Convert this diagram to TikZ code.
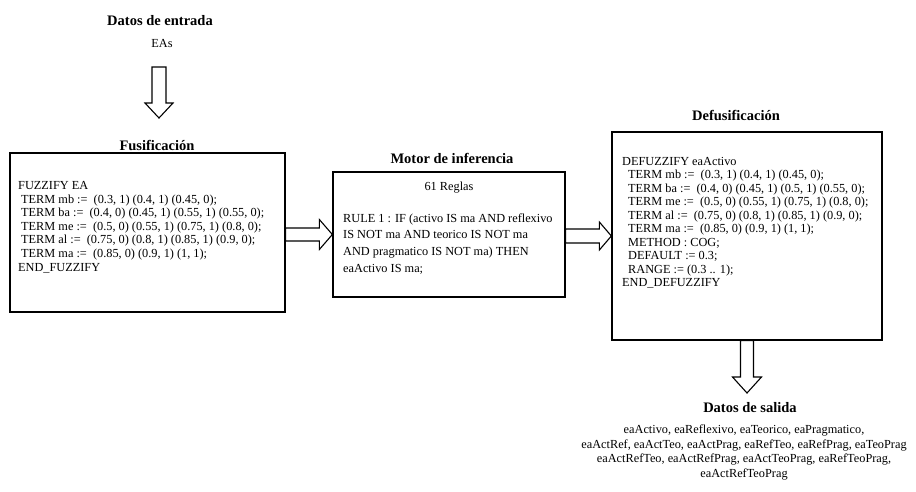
\documentclass[tikz,border=0pt]{standalone}
\usepackage{fontspec}
\setmainfont{Liberation Serif}
\usetikzlibrary{calc}
\begin{document}
\begin{tikzpicture}[x=1pt,y=-1pt,
  box/.style={draw, line width=1.3pt, inner sep=0pt},
  barrow/.style={draw, line width=1.1pt, line join=miter},
  title/.style={font=\fontsize{14.5}{17}\selectfont\bfseries, inner sep=0pt, anchor=base},
  body/.style={font=\fontsize{12.3}{13.6}\selectfont, inner sep=0pt, align=left, anchor=north west},
  lbl/.style={font=\fontsize{12.3}{14}\selectfont, inner sep=0pt, anchor=base}]
\useasboundingbox (0,0) rectangle (916,491);

% titles
\node[title] (tin) at (160,25.5) {Datos de entrada};
\node[lbl] (eas) at (162,47.5) {EAs};
\node[title] (tfus) at (157,150.5) {Fusificación};
\node[title] (tmot) at (452,163) {Motor de inferencia};
\node[title] (tdef) at (736,120) {Defusificación};
\node[title] (tout) at (750,412.5) {Datos de salida};

% boxes
\node[box, minimum width=275, minimum height=159] (fus) at (147.5,232.5) {};
\node[box, minimum width=232, minimum height=125] (motor) at (449,234.5) {};
\node[box, minimum width=270, minimum height=208] (def) at (747,236) {};

% box contents
\node[body] (fustxt) at (18,181.2) {FUZZIFY EA\\
\hspace*{3pt}TERM mb := \ (0.3, 1) (0.4, 1) (0.45, 0);\\
\hspace*{3pt}TERM ba := \ (0.4, 0) (0.45, 1) (0.55, 1) (0.55, 0);\\
\hspace*{3pt}TERM me := \ (0.5, 0) (0.55, 1) (0.75, 1) (0.8, 0);\\
\hspace*{3pt}TERM al := \ (0.75, 0) (0.8, 1) (0.85, 1) (0.9, 0);\\
\hspace*{3pt}TERM ma := \ (0.85, 0) (0.9, 1) (1, 1);\\
END\_FUZZIFY};

\node[lbl] (reglas) at (449,190) {61 Reglas};
\node[body, font=\fontsize{12.3}{16.7}\selectfont] (rule) at (343,213.3) {RULE 1 : IF (activo IS ma AND reflexivo\\
IS NOT ma AND teorico IS NOT ma\\
AND pragmatico IS NOT ma) THEN\\
eaActivo IS ma;};

\node[body, font=\fontsize{12.3}{13.5}\selectfont] (deftxt) at (622,156.9) {DEFUZZIFY eaActivo\\
\hspace*{6pt}TERM mb := \ (0.3, 1) (0.4, 1) (0.45, 0);\\
\hspace*{6pt}TERM ba := \ (0.4, 0) (0.45, 1) (0.5, 1) (0.55, 0);\\
\hspace*{6pt}TERM me := \ (0.5, 0) (0.55, 1) (0.75, 1) (0.8, 0);\\
\hspace*{6pt}TERM al := \ (0.75, 0) (0.8, 1) (0.85, 1) (0.9, 0);\\
\hspace*{6pt}TERM ma := \ (0.85, 0) (0.9, 1) (1, 1);\\
\hspace*{6pt}METHOD : COG;\\
\hspace*{6pt}DEFAULT := 0.3;\\
\hspace*{6pt}RANGE := (0.3 .. 1);\\
END\_DEFUZZIFY};

\node[body, align=center, anchor=north, font=\fontsize{12.3}{14.7}\selectfont] (outtxt) at (744,424.6) {eaActivo, eaReflexivo, eaTeorico, eaPragmatico,\\
eaActRef, eaActTeo, eaActPrag, eaRefTeo, eaRefPrag, eaTeoPrag\\
eaActRefTeo, eaActRefPrag, eaActTeoPrag, eaRefTeoPrag,\\
eaActRefTeoPrag};

% free arrow ends
\coordinate (a0s) at (159,67);
\coordinate (a0t) at (159,118);
\coordinate (a3t) at (747,393);

% block arrows
\draw[barrow] ($(a0s)+(-7,0)$) -- ($(a0t)+(-7,-15)$) -- ($(a0t)+(-14,-15)$) -- (a0t)
  -- ($(a0t)+(14,-15)$) -- ($(a0t)+(7,-15)$) -- ($(a0s)+(7,0)$) -- cycle;

\draw[barrow] ($(fus.east |- motor.west)+(0,-6.5)$) -- ($(motor.west)+(-13,-6.5)$)
  -- ($(motor.west)+(-13,-15)$) -- (motor.west) -- ($(motor.west)+(-13,15)$)
  -- ($(motor.west)+(-13,6.5)$) -- ($(fus.east |- motor.west)+(0,6.5)$) -- cycle;

\draw[barrow] ($(motor.east |- def.west)+(0,-7)$) -- ($(def.west)+(-12,-7)$)
  -- ($(def.west)+(-12,-14)$) -- (def.west) -- ($(def.west)+(-12,14)$)
  -- ($(def.west)+(-12,7)$) -- ($(motor.east |- def.west)+(0,7)$) -- cycle;

\draw[barrow] ($(def.south)+(-6.5,0)$) -- ($(a3t)+(-6.5,-16)$) -- ($(a3t)+(-14.5,-16)$)
  -- (a3t) -- ($(a3t)+(14.5,-16)$) -- ($(a3t)+(6.5,-16)$) -- ($(def.south)+(6.5,0)$) -- cycle;
\end{tikzpicture}
\end{document}
